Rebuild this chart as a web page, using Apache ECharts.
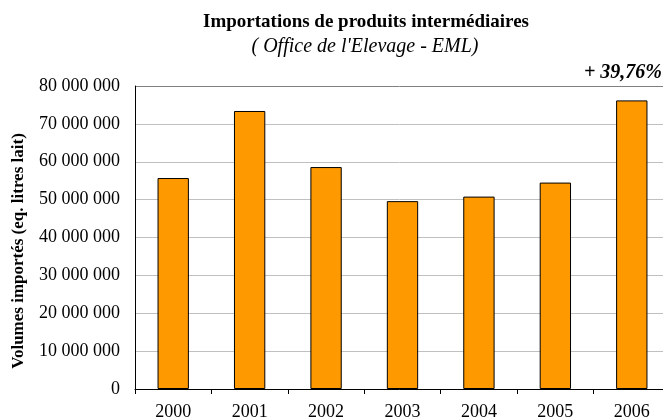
<!DOCTYPE html>
<html>
<head>
<meta charset="utf-8">
<script src="https://cdn.jsdelivr.net/npm/echarts@6/dist/echarts.min.js"></script>
<style>
    html, body { margin: 0; padding: 0; background: #fff; }
    #chart { width: 663px; height: 419px; }
</style>
</head>
<body>
<div id="chart"></div>
<script>
const years = ['2000', '2001', '2002', '2003', '2004', '2005', '2006']
const volumes = [55700000, 73400000, 58600000, 49600000, 50800000, 54500000, 76200000]
const yTicks = [0, 10000000, 20000000, 30000000, 40000000, 50000000, 60000000, 70000000, 80000000]

const serif = '"Liberation Serif", "Times New Roman", serif'

// grid lines light grey, the top one darker like a border
const gridColors = yTicks.map((v, i) => i === yTicks.length - 1 ? '#808080' : '#c0c0c0')

const chart = echarts.init(document.getElementById('chart'))

chart.setOption({
    animation: false,
    backgroundColor: '#fff',
    graphic: [
        {
            type: 'text',
            style: {
                text: 'Importations de produits intermédiaires',
                x: 366, y: 22,
                textAlign: 'center',
                textVerticalAlign: 'middle',
                font: 'bold 19px ' + serif,
                fill: '#000'
            }
        },
        {
            type: 'text',
            style: {
                text: "( Office de l'Elevage - EML)",
                x: 365, y: 47,
                textAlign: 'center',
                textVerticalAlign: 'middle',
                font: 'italic 20px ' + serif,
                fill: '#000'
            }
        },
        {
            type: 'text',
            style: {
                text: '+ 39,76%',
                x: 662, y: 73,
                textAlign: 'right',
                textVerticalAlign: 'middle',
                font: 'italic bold 20px ' + serif,
                fill: '#000'
            }
        },
        {
            // axis title, placed by hand since the reference is not centred on the plot
            type: 'text',
            x: 19,
            y: 251,
            rotation: Math.PI / 2,
            style: {
                text: 'Volumes importés (eq. litres lait)',
                textAlign: 'center',
                textVerticalAlign: 'middle',
                font: 'bold 17px ' + serif,
                fill: '#000'
            }
        }
    ],
    grid: {
        left: 135,
        right: -7,
        top: 86,
        bottom: 30,
        outerBoundsMode: 'none'
    },
    xAxis: {
        type: 'category',
        data: years,
        axisLine: { lineStyle: { color: '#000', width: 1 } },
        axisTick: { show: true, length: 5, lineStyle: { color: '#000' } },
        axisLabel: {
            color: '#000',
            fontFamily: serif,
            fontSize: 18,
            margin: 14
        }
    },
    yAxis: {
        type: 'value',
        min: 0,
        max: 80000000,
        interval: 10000000,
        axisLine: { show: true, lineStyle: { color: '#000', width: 1 } },
        axisTick: { show: false },
        axisLabel: {
            color: '#000',
            fontFamily: serif,
            fontSize: 18,
            margin: 15,
            formatter: v => String(v).replace(/\B(?=(\d{3})+(?!\d))/g, ' ')
        },
        splitLine: { lineStyle: { color: gridColors, width: 1 } }
    },
    series: [{
        type: 'bar',
        data: volumes,
        barWidth: '41%',
        itemStyle: {
            color: '#ff9900',
            borderColor: '#000',
            borderWidth: 1
        }
    }]
})
</script>
</body>
</html>
